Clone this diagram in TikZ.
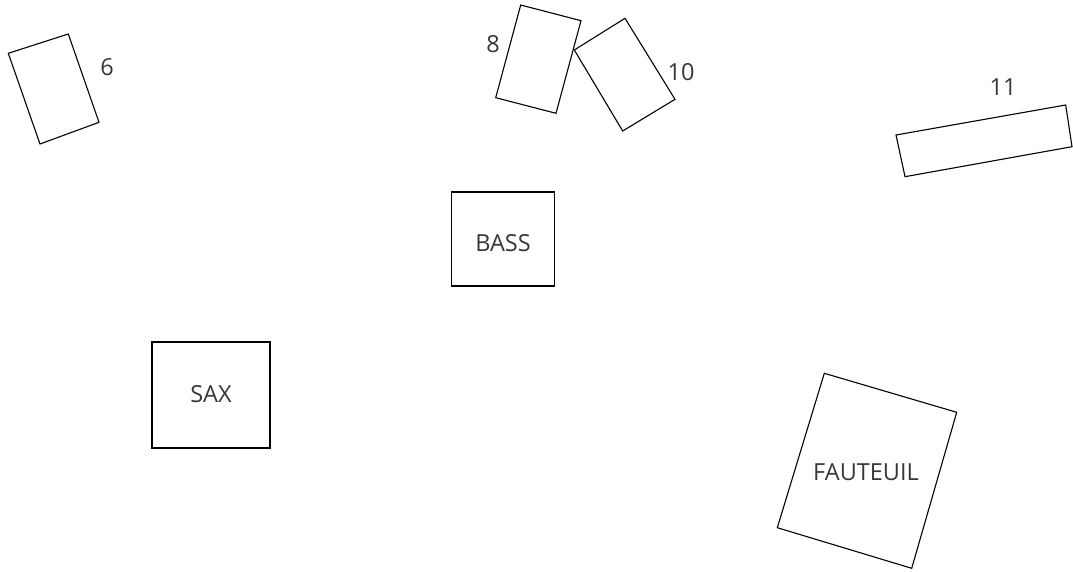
\documentclass[tikz,border=0pt]{standalone}
\usepackage{fontspec}
\setmainfont{Open Sans}
\definecolor{labelGray}{RGB}{55, 55, 55}

\tikzset{
  piece/.style={draw=black, line width=1.1pt, line join=miter},
  tag/.style={font=\fontsize{23.5}{28}\selectfont, text=labelGray, inner sep=0pt}
}

\begin{document}
\begin{tikzpicture}[x=1pt, y=-1pt]
        \useasboundingbox (0,0) rectangle (1073,572);
        % seat 6, top left
        \draw[piece] (8.3,53.3) -- (68.3,34) -- (99,122.3) -- (40,144) -- cycle;
        \node[tag] (six) at (107,67) {6};
        % seats 8 and 10, top middle
        \draw[piece] (520.7,5) -- (581,20.7) -- (556,113.3) -- (495.7,97.7) -- cycle;
        \node[tag] (eight) at (493,44) {8};
        \draw[piece] (574.3,50) -- (625,18.3) -- (675,99.3) -- (622.7,131) -- cycle;
        \node[tag] (ten) at (681,72) {10};
        % bench 11, top right
        \draw[piece] (896,135) -- (1065.7,105) -- (1072,146.7) -- (905,176.7) -- cycle;
        \node[tag] (eleven) at (1003,87) {11};
        % bass and sax, upright squares
        \draw[piece] (451.5,192) rectangle (554.5,286);
        \node[tag] (bass) at (503,243) {BASS};
        \draw[piece] (152,342) rectangle (270,448);
        \node[tag] (sax) at (211,394) {SAX};
        % armchair, bottom right
        \draw[piece] (824.3,373.3) -- (956.7,412.3) -- (911.7,568.3) -- (777.3,527.7) -- cycle;
        \node[tag] (fauteuil) at (866,472) {FAUTEUIL};
      \end{tikzpicture}
\end{document}
